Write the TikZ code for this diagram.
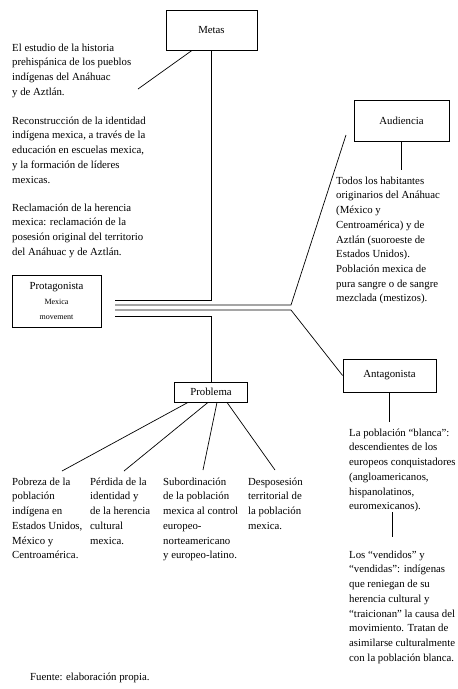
\documentclass[tikz,border=0pt]{standalone}
\usepackage{fontspec}
\setmainfont{Liberation Serif}
\usetikzlibrary{positioning}

\begin{document}
\begin{tikzpicture}[x=1pt, y=-1pt,
  box/.style={draw, line width=0.8pt, align=center, inner sep=0pt,
              font=\fontsize{10.8}{15}\selectfont},
  txt/.style={anchor=north west, inner sep=0pt, align=left,
              font=\fontsize{10.8}{14.7}\selectfont},
  small/.style={font=\fontsize{8}{15}\selectfont},
  ln/.style={line width=0.7pt}
]
\useasboundingbox (0,0) rectangle (458,689);

% boxes
\node[box, minimum width=91pt, minimum height=40pt] (metas)     at (211.5,30)    {Metas};
\node[box, minimum width=95pt, minimum height=41pt] (audiencia) at (401.5,120.5) {Audiencia};
\node[box, minimum width=89pt, minimum height=52pt] (protag)    at (56.5,301)
  {Protagonista\\{\fontsize{8}{15}\selectfont Mexica}\\{\fontsize{8}{15}\selectfont movement}};
\node[box, minimum width=73pt, minimum height=20pt] (problema)  at (211,392)     {Problema};
\node[box, minimum width=93pt, minimum height=33pt] (antag)     at (389.5,375.5) {Antagonista};

% texts
\node[txt] (meta1) at (12,43.5) {El estudio de la historia\\prehispánica de los pueblos\\indígenas del Anáhuac\\y de Aztlán.};
\node[txt] (meta2) at (12,116.5) {Reconstrucción de la identidad\\indígena mexica, a través de la\\educación en escuelas mexica,\\y la formación de líderes\\mexicas.};
\node[txt] (meta3) at (12,203.5) {Reclamación de la herencia\\mexica: reclamación de la\\posesión original del territorio\\del Anáhuac y de Aztlán.};
\node[txt] (aud1) at (336,176.5) {Todos los habitantes\\originarios del Anáhuac\\(México y\\Centroamérica) y de\\Aztlán (suoroeste de\\Estados Unidos).\\Población mexica de\\pura sangre o de sangre\\mezclada (mestizos).};
\node[txt] (prob1) at (12,477.5)  {Pobreza de la\\población\\indígena en\\Estados Unidos,\\México y\\Centroamérica.};
\node[txt] (prob2) at (90,477.5)  {Pérdida de la\\identidad y\\de la herencia\\cultural\\mexica.};
\node[txt] (prob3) at (163,477.5) {Subordinación\\de la población\\mexica al control\\europeo-\\norteamericano\\y europeo-latino.};
\node[txt] (prob4) at (248,477.5) {Desposesión\\territorial de\\la población\\mexica.};
\node[txt] (ant1) at (349,428.5) {La población “blanca”:\\descendientes de los\\europeos conquistadores\\(angloamericanos,\\hispanolatinos,\\euromexicanos).};
\node[txt] (ant2) at (349,550.5) {Los “vendidos” y\\“vendidas”: indígenas\\que reniegan de su\\herencia cultural y\\“traicionan” la causa del\\movimiento. Tratan de\\asimilarse culturalmente\\con la población blanca.};
\node[txt] (fuente) at (30,672.5) {Fuente: elaboración propia.};

% junctions and free ends
\coordinate (m1) at (138,89);
\coordinate (h1) at (115,300);
\coordinate (h2) at (115,305);
\coordinate (h3) at (115,310);
\coordinate (h4) at (115,316);
\coordinate (j2) at (291,305);
\coordinate (j3) at (291,310);
\coordinate (a1) at (346,135);
\coordinate (a2) at (401.5,170);
\coordinate (t1) at (389.5,422);
\coordinate (t2) at (392,512);
\coordinate (t3) at (392,537);
\coordinate (p1) at (62,471);
\coordinate (p2) at (124,471);
\coordinate (p3) at (203,470);
\coordinate (p4) at (275,470);

% connectors
\draw[ln] ([xshift=-19.5pt]metas.south) -- (m1);
\draw[ln] (metas.south) |- (h1);
\draw[ln] (h2) -- (j2) -- (a1);
\draw[ln] (h3) -- (j3) -- (antag.west);
\draw[ln] (h4) -| (problema.north);
\draw[ln] (audiencia.south) -- (a2);
\draw[ln] (antag.south) -- (t1);
\draw[ln] (t2) -- (t3);
\draw[ln] ([xshift=-23pt]problema.south) -- (p1);
\draw[ln] ([xshift=-3pt]problema.south) -- (p2);
\draw[ln] ([xshift=6pt]problema.south) -- (p3);
\draw[ln] ([xshift=16pt]problema.south) -- (p4);
\end{tikzpicture}
\end{document}
